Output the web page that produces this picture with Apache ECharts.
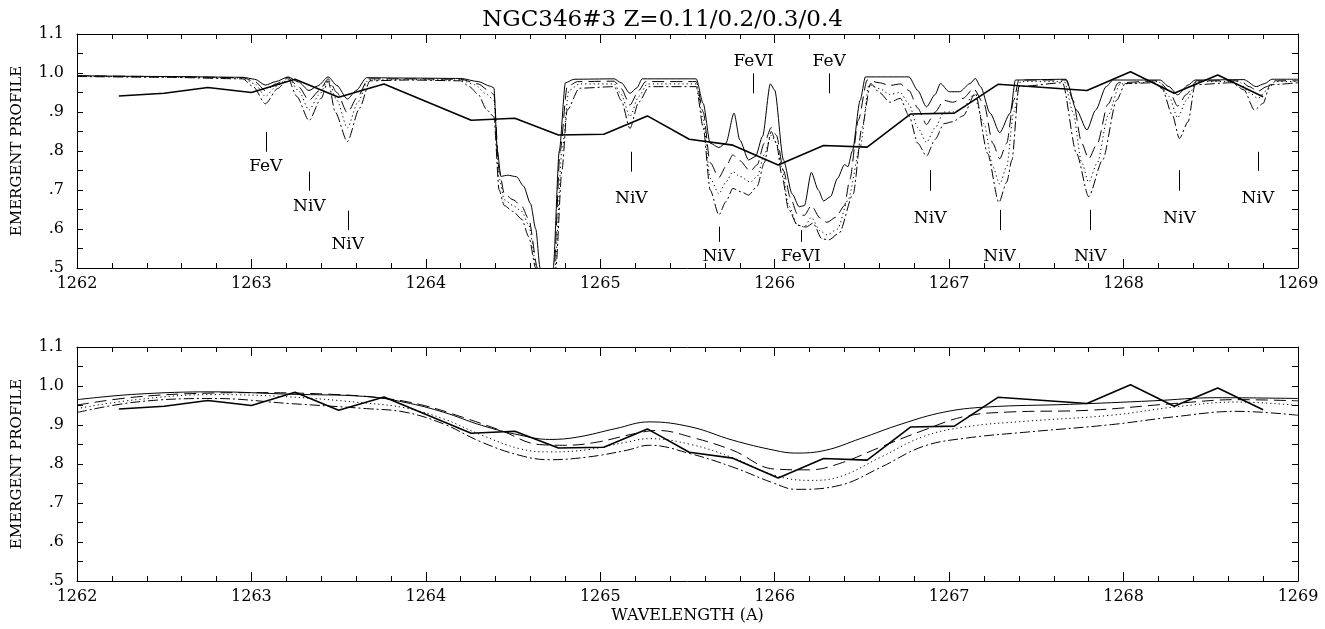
<!DOCTYPE html>
<html>
<head>
<meta charset="utf-8">
<script src="https://cdn.jsdelivr.net/npm/echarts@6/dist/echarts.min.js"></script>
<style>
html,body{margin:0;padding:0;background:#fff;}
#chart{width:1325px;height:629px;}
</style>
</head>
<body>
<div id="chart"></div>
<script>
// ---------------- DATA ----------------
const chartTitle = 'NGC346#3 Z=0.11/0.2/0.3/0.4';
const yAxisTitle = 'EMERGENT PROFILE';
const xAxisTitle = 'WAVELENGTH (A)';

// observed spectrum (thick solid polyline, same in both panels)
const obsWave = [1262.24,1262.50,1262.75,1263.00,1263.25,1263.50,1263.76,1264.26,1264.51,1264.76,1265.02,1265.27,1265.51,1265.76,1266.02,1266.28,1266.53,1266.78,1267.03,1267.28,1267.79,1268.04,1268.29,1268.54,1268.80];
const obsFlux = [0.941,0.948,0.963,0.950,0.984,0.938,0.972,0.879,0.884,0.841,0.843,0.890,0.830,0.815,0.764,0.814,0.810,0.895,0.897,0.971,0.955,1.003,0.948,0.995,0.939];

// top panel: models at full resolution [wavelength, flux]
const topZ011 = [[1262.0,0.993],[1262.5,0.991],[1262.95,0.989],[1263.02,0.984],[1263.08,0.969],[1263.14,0.978],[1263.21,0.99],[1263.27,0.977],[1263.33,0.955],[1263.38,0.967],[1263.44,0.99],[1263.49,0.968],[1263.55,0.933],[1263.60,0.955],[1263.66,0.988],[1263.9,0.987],[1264.2,0.986],[1264.3,0.978],[1264.37,0.966],[1264.39,0.962],[1264.41,0.80],[1264.43,0.735],[1264.47,0.738],[1264.52,0.734],[1264.56,0.71],[1264.60,0.665],[1264.63,0.60],[1264.655,0.50],[1264.69,0.30],[1264.715,0.30],[1264.73,0.50],[1264.765,0.80],[1264.80,0.975],[1264.85,0.984],[1265.08,0.985],[1265.12,0.975],[1265.17,0.948],[1265.21,0.962],[1265.24,0.985],[1265.55,0.985],[1265.59,0.922],[1265.63,0.82],[1265.68,0.809],[1265.72,0.82],[1265.767,0.897],[1265.80,0.828],[1265.85,0.777],[1265.89,0.786],[1265.93,0.837],[1265.975,0.972],[1266.0,0.956],[1266.05,0.777],[1266.10,0.69],[1266.14,0.657],[1266.17,0.66],[1266.21,0.745],[1266.25,0.70],[1266.28,0.672],[1266.32,0.683],[1266.36,0.73],[1266.40,0.765],[1266.42,0.76],[1266.445,0.80],[1266.49,0.93],[1266.52,0.99],[1266.77,0.99],[1266.82,0.955],[1266.87,0.913],[1266.92,0.945],[1266.95,0.973],[1267.0,0.952],[1267.06,0.952],[1267.12,0.973],[1267.15,0.986],[1267.18,0.965],[1267.235,0.897],[1267.29,0.847],[1267.35,0.897],[1267.38,0.982],[1267.67,0.984],[1267.73,0.905],[1267.79,0.854],[1267.84,0.905],[1267.90,0.965],[1267.94,0.982],[1268.21,0.982],[1268.26,0.965],[1268.31,0.944],[1268.37,0.969],[1268.41,0.982],[1268.69,0.983],[1268.76,0.965],[1268.81,0.973],[1268.85,0.984],[1269.0,0.984]];
const topZ02 = [[1262.0,0.993],[1262.5,0.991],[1262.95,0.988],[1263.02,0.978],[1263.08,0.955],[1263.14,0.972],[1263.21,0.988],[1263.27,0.965],[1263.33,0.93],[1263.39,0.955],[1263.44,0.985],[1263.49,0.95],[1263.55,0.898],[1263.61,0.94],[1263.67,0.985],[1263.9,0.985],[1264.2,0.984],[1264.3,0.972],[1264.36,0.955],[1264.39,0.945],[1264.42,0.75],[1264.45,0.69],[1264.50,0.675],[1264.55,0.658],[1264.59,0.625],[1264.64,0.50],[1264.68,0.30],[1264.72,0.30],[1264.735,0.50],[1264.77,0.80],[1264.81,0.965],[1264.87,0.978],[1265.08,0.979],[1265.12,0.96],[1265.17,0.918],[1265.22,0.955],[1265.26,0.978],[1265.55,0.978],[1265.59,0.90],[1265.63,0.77],[1265.68,0.732],[1265.72,0.76],[1265.76,0.79],[1265.80,0.775],[1265.86,0.748],[1265.90,0.765],[1265.94,0.82],[1265.98,0.86],[1266.01,0.84],[1266.05,0.75],[1266.09,0.68],[1266.13,0.638],[1266.17,0.635],[1266.21,0.66],[1266.26,0.628],[1266.30,0.617],[1266.35,0.63],[1266.40,0.66],[1266.43,0.726],[1266.48,0.88],[1266.53,0.982],[1266.6,0.975],[1266.66,0.968],[1266.72,0.972],[1266.77,0.955],[1266.82,0.91],[1266.87,0.868],[1266.92,0.9],[1266.97,0.93],[1267.02,0.925],[1267.08,0.935],[1267.14,0.96],[1267.2,0.92],[1267.25,0.82],[1267.29,0.78],[1267.33,0.82],[1267.37,0.93],[1267.40,0.982],[1267.67,0.982],[1267.71,0.93],[1267.76,0.82],[1267.80,0.78],[1267.85,0.82],[1267.91,0.92],[1267.97,0.975],[1268.2,0.98],[1268.26,0.955],[1268.31,0.915],[1268.36,0.945],[1268.42,0.98],[1268.67,0.98],[1268.72,0.965],[1268.77,0.953],[1268.82,0.965],[1268.87,0.98],[1269.0,0.98]];
const topZ03 = [[1262.0,0.992],[1262.5,0.99],[1262.95,0.987],[1263.02,0.972],[1263.08,0.94],[1263.14,0.965],[1263.21,0.987],[1263.27,0.955],[1263.33,0.905],[1263.39,0.945],[1263.44,0.982],[1263.49,0.93],[1263.55,0.859],[1263.61,0.925],[1263.67,0.982],[1263.9,0.983],[1264.2,0.982],[1264.28,0.97],[1264.35,0.945],[1264.39,0.93],[1264.42,0.73],[1264.45,0.675],[1264.50,0.66],[1264.55,0.645],[1264.59,0.61],[1264.635,0.50],[1264.68,0.30],[1264.72,0.30],[1264.74,0.50],[1264.78,0.80],[1264.82,0.955],[1264.88,0.972],[1265.08,0.972],[1265.12,0.945],[1265.17,0.888],[1265.22,0.94],[1265.27,0.972],[1265.55,0.972],[1265.59,0.88],[1265.63,0.73],[1265.68,0.69],[1265.72,0.72],[1265.76,0.747],[1265.80,0.735],[1265.86,0.72],[1265.90,0.735],[1265.94,0.79],[1265.98,0.84],[1266.01,0.82],[1266.04,0.76],[1266.08,0.66],[1266.13,0.61],[1266.17,0.605],[1266.21,0.63],[1266.26,0.595],[1266.30,0.585],[1266.36,0.60],[1266.42,0.674],[1266.49,0.81],[1266.54,0.97],[1266.6,0.96],[1266.66,0.945],[1266.72,0.95],[1266.77,0.92],[1266.82,0.86],[1266.87,0.822],[1266.92,0.86],[1266.97,0.9],[1267.02,0.9],[1267.08,0.91],[1267.14,0.945],[1267.2,0.87],[1267.25,0.76],[1267.29,0.715],[1267.33,0.76],[1267.37,0.9],[1267.41,0.978],[1267.66,0.978],[1267.71,0.9],[1267.76,0.77],[1267.80,0.72],[1267.85,0.77],[1267.91,0.89],[1267.98,0.972],[1268.2,0.978],[1268.26,0.94],[1268.31,0.885],[1268.36,0.93],[1268.42,0.978],[1268.66,0.978],[1268.72,0.95],[1268.77,0.935],[1268.82,0.955],[1268.87,0.978],[1269.0,0.978]];
const topZ04 = [[1262.0,0.991],[1262.5,0.989],[1262.95,0.985],[1263.01,0.965],[1263.08,0.921],[1263.15,0.96],[1263.21,0.985],[1263.26,0.94],[1263.33,0.878],[1263.40,0.935],[1263.44,0.98],[1263.48,0.9],[1263.55,0.824],[1263.62,0.91],[1263.68,0.98],[1263.9,0.982],[1264.2,0.98],[1264.25,0.965],[1264.30,0.945],[1264.35,0.905],[1264.39,0.888],[1264.42,0.70],[1264.45,0.66],[1264.50,0.645],[1264.55,0.625],[1264.59,0.58],[1264.63,0.50],[1264.67,0.30],[1264.72,0.30],[1264.745,0.50],[1264.78,0.75],[1264.81,0.905],[1264.88,0.961],[1265.08,0.965],[1265.12,0.93],[1265.17,0.858],[1265.22,0.925],[1265.28,0.965],[1265.55,0.965],[1265.59,0.86],[1265.63,0.70],[1265.68,0.636],[1265.72,0.67],[1265.76,0.704],[1265.81,0.695],[1265.85,0.687],[1265.90,0.71],[1265.94,0.77],[1265.98,0.85],[1266.01,0.82],[1266.04,0.74],[1266.08,0.65],[1266.13,0.61],[1266.18,0.605],[1266.22,0.615],[1266.27,0.575],[1266.31,0.572],[1266.37,0.59],[1266.45,0.69],[1266.50,0.86],[1266.55,0.973],[1266.6,0.95],[1266.66,0.925],[1266.72,0.935],[1266.77,0.89],[1266.82,0.82],[1266.87,0.787],[1266.92,0.83],[1266.97,0.87],[1267.02,0.875],[1267.08,0.89],[1267.15,0.948],[1267.22,0.794],[1267.285,0.668],[1267.33,0.72],[1267.36,0.777],[1267.40,0.965],[1267.65,0.975],[1267.73,0.794],[1267.80,0.683],[1267.88,0.777],[1267.96,0.93],[1268.01,0.973],[1268.18,0.975],[1268.22,0.96],[1268.28,0.892],[1268.32,0.832],[1268.37,0.875],[1268.41,0.97],[1268.62,0.975],[1268.69,0.957],[1268.75,0.905],[1268.80,0.922],[1268.84,0.97],[1269.0,0.975]];

// bottom panel: models convolved to observed resolution
const botZ011 = [[1262.0,0.965],[1262.34,0.979],[1262.78,0.985],[1263.22,0.979],[1263.66,0.973],[1263.88,0.958],[1264.10,0.933],[1264.32,0.899],[1264.54,0.874],[1264.71,0.863],[1264.87,0.869],[1265.09,0.891],[1265.28,0.908],[1265.52,0.895],[1265.76,0.861],[1266.0,0.835],[1266.12,0.828],[1266.29,0.835],[1266.49,0.865],[1266.73,0.903],[1266.97,0.933],[1267.21,0.946],[1267.69,0.953],[1268.17,0.962],[1268.53,0.970],[1269.0,0.968]];
const botZ02 = [[1262.0,0.951],[1262.34,0.972],[1262.78,0.982],[1263.0,0.983],[1263.44,0.979],[1263.77,0.968],[1263.99,0.950],[1264.21,0.920],[1264.43,0.886],[1264.65,0.85],[1264.80,0.848],[1264.98,0.856],[1265.2,0.878],[1265.33,0.886],[1265.52,0.869],[1265.76,0.835],[1266.0,0.787],[1266.2,0.785],[1266.37,0.801],[1266.61,0.844],[1266.85,0.886],[1267.09,0.922],[1267.33,0.933],[1267.81,0.938],[1268.29,0.955],[1268.65,0.965],[1269.0,0.962]];
const botZ03 = [[1262.0,0.942],[1262.34,0.965],[1262.78,0.978],[1263.22,0.972],[1263.66,0.956],[1263.88,0.944],[1264.10,0.916],[1264.32,0.874],[1264.54,0.839],[1264.71,0.831],[1264.93,0.837],[1265.15,0.856],[1265.28,0.865],[1265.52,0.85],[1265.76,0.816],[1266.0,0.771],[1266.2,0.758],[1266.37,0.767],[1266.61,0.818],[1266.85,0.870],[1267.09,0.895],[1267.45,0.910],[1267.93,0.925],[1268.29,0.946],[1268.65,0.959],[1269.0,0.950]];
const botZ04 = [[1262.0,0.932],[1262.34,0.959],[1262.78,0.968],[1263.22,0.955],[1263.66,0.942],[1263.88,0.933],[1264.10,0.903],[1264.32,0.856],[1264.54,0.822],[1264.71,0.811],[1264.93,0.818],[1265.15,0.835],[1265.28,0.848],[1265.52,0.826],[1265.76,0.792],[1266.0,0.75],[1266.12,0.735],[1266.37,0.745],[1266.61,0.792],[1266.85,0.845],[1267.09,0.866],[1267.45,0.882],[1267.93,0.901],[1268.29,0.921],[1268.65,0.935],[1269.0,0.925]];

// line identifications in the top panel
const annLabel  = ['FeV','NiV','NiV','NiV','FeVI','FeV','NiV','FeVI','NiV','NiV','NiV','NiV','NiV'];
const annWave   = [1263.082,1263.332,1263.552,1265.178,1265.878,1266.312,1265.679,1266.150,1266.891,1267.289,1267.809,1268.320,1268.770];
const annTickHi = [0.849,0.747,0.647,0.798,0.999,0.999,0.606,0.597,0.751,0.649,0.649,0.751,0.798];
const annTickLo = [0.798,0.698,0.597,0.747,0.948,0.948,0.567,0.567,0.698,0.597,0.597,0.698,0.749];
const annTextAt = [0.759,0.657,0.559,0.679,1.029,1.029,0.529,0.529,0.627,0.529,0.529,0.627,0.679];

const xTickMin = 1262, xTickMax = 1269;
const yTickMin = 0.5, yTickMax = 1.1;

// ---------------- CHART ----------------
const FONT = '"DejaVu Serif", "Liberation Serif", serif';
const chart = echarts.init(document.getElementById('chart'), null, {renderer: 'canvas'});

const gridTop = {left: 77, top: 34, width: 1221, height: 234};
const gridBot = {left: 77, top: 347, width: 1221, height: 234};

function yLabel(v) {
  const s = v.toFixed(1);
  return s.startsWith('0') ? s.slice(1) : s;
}

function makeX(gridIndex, pos, labels, withName) {
  return {
    type: 'value', gridIndex, position: pos, min: xTickMin, max: xTickMax, interval: 1,
    axisLine: {show: true, onZero: false, lineStyle: {color: '#000', width: 1}},
    axisTick: {show: true, inside: true, length: 9, lineStyle: {color: '#000', width: 1}},
    minorTick: {show: true, splitNumber: 5, length: 5, lineStyle: {color: '#000', width: 1}},
    splitLine: {show: false},
    axisLabel: {show: labels, margin: 8, color: '#000', fontFamily: FONT, fontSize: 16, formatter: v => String(Math.round(v))},
    name: withName ? xAxisTitle : '',
    nameLocation: 'middle', nameGap: 27,
    nameTextStyle: {color: '#000', fontFamily: FONT, fontSize: 16}
  };
}
function makeY(gridIndex, pos, labels) {
  return {
    type: 'value', gridIndex, position: pos, min: yTickMin, max: yTickMax, interval: 0.1,
    axisLine: {show: true, onZero: false, lineStyle: {color: '#000', width: 1}},
    axisTick: {show: true, inside: true, length: 6, lineStyle: {color: '#000', width: 1}},
    minorTick: {show: true, splitNumber: 2, length: 6, lineStyle: {color: '#000', width: 1}},
    splitLine: {show: false},
    axisLabel: {show: labels, margin: 13, color: '#000', fontFamily: FONT, fontSize: 16, formatter: yLabel},
    name: labels ? yAxisTitle : '',
    nameLocation: 'middle', nameGap: 52, nameRotate: 90,
    nameTextStyle: {color: '#000', fontFamily: FONT, fontSize: 15}
  };
}

const styles = [
  {type: 'solid', width: 1},
  {type: [12, 6], width: 1},
  {type: [1.2, 3], width: 1},
  {type: [10, 3, 2, 3], width: 1}
];

function modelSeries(data, st, xi, yi, smooth, mono) {
  const s = {
    type: 'line', data, xAxisIndex: xi, yAxisIndex: yi, showSymbol: false, symbol: 'none',
    smooth, clip: true,
    lineStyle: {color: '#000', width: st.width, type: st.type}, z: 2, silent: true
  };
  if (mono) s.smoothMonotone = 'x';
  return s;
}
function obsSeries(xi, yi) {
  return {
    type: 'line', data: obsWave.map((w, i) => [w, obsFlux[i]]), xAxisIndex: xi, yAxisIndex: yi,
    showSymbol: false, symbol: 'none', smooth: false, clip: true,
    lineStyle: {color: '#000', width: 1.6, type: 'solid'}, z: 3, silent: true
  };
}

const annData = annWave.map((w, i) => [w, annTickHi[i], annTickLo[i], annTextAt[i], i]);

const option = {
  animation: false,
  backgroundColor: '#fff',
  title: {
    text: chartTitle, left: 'center', top: 4,
    textStyle: {color: '#000', fontFamily: FONT, fontSize: 23, fontWeight: 'normal'}
  },
  grid: [
    Object.assign({containLabel: false}, gridTop),
    Object.assign({containLabel: false}, gridBot)
  ],
  xAxis: [makeX(0, 'bottom', true, false), makeX(0, 'top', false, false), makeX(1, 'bottom', true, true), makeX(1, 'top', false, false)],
  yAxis: [makeY(0, 'left', true), makeY(0, 'right', false), makeY(1, 'left', true), makeY(1, 'right', false)],
  series: [
    modelSeries(topZ011, styles[0], 0, 0, 0.25, true),
    modelSeries(topZ02, styles[1], 0, 0, 0.25, true),
    modelSeries(topZ03, styles[2], 0, 0, 0.25, true),
    modelSeries(topZ04, styles[3], 0, 0, 0.25, true),
    obsSeries(0, 0),
    modelSeries(botZ011, styles[0], 2, 2, 0.4, false),
    modelSeries(botZ02, styles[1], 2, 2, 0.4, false),
    modelSeries(botZ03, styles[2], 2, 2, 0.4, false),
    modelSeries(botZ04, styles[3], 2, 2, 0.4, false),
    obsSeries(2, 2),
    {
      type: 'custom', xAxisIndex: 0, yAxisIndex: 0, data: annData, clip: false, silent: true, z: 5,
      renderItem: function (params, api) {
        const w = api.value(0);
        const p1 = api.coord([w, api.value(1)]);
        const p2 = api.coord([w, api.value(2)]);
        const p3 = api.coord([w, api.value(3)]);
        const idx = api.value(4);
        return {
          type: 'group',
          children: [
            {type: 'line', shape: {x1: Math.round(p1[0]) + 0.5, y1: p1[1], x2: Math.round(p2[0]) + 0.5, y2: p2[1]},
             style: {stroke: '#000', lineWidth: 1}},
            {type: 'text', x: p3[0], y: p3[1],
             style: {text: annLabel[idx], textAlign: 'center', textVerticalAlign: 'middle',
                     font: '17px ' + FONT, fill: '#000'}}
          ]
        };
      }
    }
  ]
};
chart.setOption(option);
</script>
</body>
</html>
